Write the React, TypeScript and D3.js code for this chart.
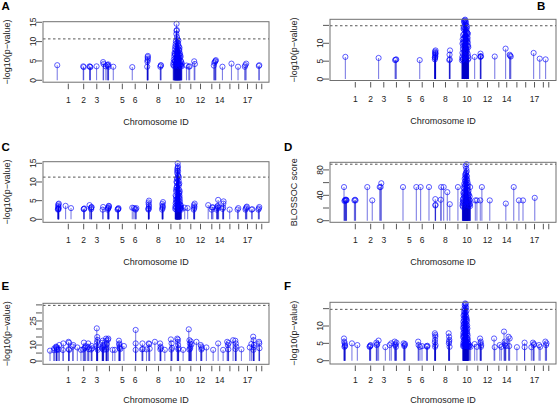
import React from 'react';
import * as d3 from 'd3';

type Locus = [number, number];

// chromosome tick positions along the genome axis (arbitrary genome units 0..1000)
const CHR_TICKS = [112, 180, 238, 294, 351, 408, 458, 511, 566, 606, 654, 697, 747, 782, 827, 866, 905, 944, 968];
const CHR_LABELS = ['1', '2', '3', '', '5', '6', '', '8', '', '10', '', '12', '', '14', '', '', '17', '', ''];

// Panel A: -log10(p) per locus [position, value]
const lociA: Locus[] = [
  [63, 3.9], [178, 3.6], [180, 3.4], [206, 3.6], [208, 3.5], [210, 3.4], [237, 3.6],
  [266, 4.7], [268, 4.2], [278, 3.6], [284, 4.0], [287, 3.8], [290, 3.5], [289, 4.1], [311, 3.5],
  [395, 3.4], [461, 3.5], [462, 4.8], [463, 5.2], [464, 5.6], [463, 6.0], [464, 6.3],
  [519, 3.5], [521, 3.8], [522, 3.9],
  [576, 4.0], [578, 4.6], [579, 5.4], [580, 3.7], [581, 6.3], [582, 7.1], [583, 5.0], [584, 8.0], [585, 8.7],
  [586, 6.6], [587, 9.4], [588, 10.1], [589, 7.6], [590, 12.0], [591, 14.6], [591, 12.8], [592, 13.0], [593, 11.2],
  [594, 9.8], [595, 10.6], [596, 8.3], [597, 9.1], [598, 7.4], [599, 10.3], [600, 6.0], [601, 8.8], [602, 5.3],
  [603, 7.9], [604, 6.7], [605, 4.5], [606, 7.0], [607, 5.8], [608, 4.1], [609, 6.2], [610, 5.0], [611, 3.8],
  [612, 4.7], [613, 3.6], [614, 4.3], [586, 3.9], [596, 4.4], [600, 3.6],
  [584, 4.9], [587, 5.7], [589, 4.3], [592, 6.1], [594, 5.2], [597, 4.8], [599, 6.9], [602, 7.7], [605, 6.4],
  [590, 8.6], [593, 7.3], [595, 6.2], [598, 9.6], [601, 5.6], [604, 8.4], [607, 3.9], [583, 6.8], [588, 4.5],
  [635, 3.8], [645, 3.5], [649, 3.6], [669, 4.9], [672, 4.2],
  [756, 3.8], [758, 4.5], [761, 4.8], [763, 5.0], [765, 5.2], [794, 3.5], [834, 4.3], [863, 3.5],
  [893, 3.5], [895, 3.9], [899, 4.3], [955, 3.7], [957, 3.9],
];

const lociB: Locus[] = [
  [68, 6.2], [215, 5.9], [288, 5.3], [291, 5.4], [293, 5.5], [397, 5.3],
  [464, 5.5], [465, 5.9], [466, 6.3], [465, 6.7], [467, 7.0], [466, 7.4], [465, 7.7], [467, 8.0], [464, 6.0], [466, 7.2],
  [528, 5.3], [530, 5.5], [529, 6.8], [531, 8.0],
  [584, 5.2], [585, 6.1], [586, 7.3], [587, 5.6], [588, 8.4], [589, 9.2], [590, 6.8], [591, 10.5], [592, 11.3],
  [593, 7.9], [594, 12.6], [595, 13.8], [596, 16.4], [597, 15.2], [598, 14.1], [599, 9.7], [600, 12.0], [601, 16.1],
  [602, 10.8], [603, 13.3], [604, 8.6], [605, 11.7], [606, 14.7], [607, 9.4], [608, 12.9], [609, 7.1], [610, 10.2],
  [611, 6.4], [612, 8.9], [613, 5.8], [588, 5.5], [590, 10.1], [592, 14.5], [594, 15.8], [596, 11.9], [598, 6.2],
  [600, 15.5], [602, 13.9], [604, 12.4], [606, 7.8], [608, 10.9], [610, 5.4], [595, 9.0], [597, 6.6], [599, 15.9],
  [601, 8.1], [603, 11.0], [605, 14.2], [607, 13.0], [609, 11.5],
  [586, 9.9], [589, 12.3], [591, 14.0], [593, 16.2], [598, 16.6], [603, 15.0], [606, 10.4], [611, 9.3], [587, 11.1], [610, 12.6],
  [640, 6.2], [665, 6.2], [667, 6.4], [668, 6.3], [666, 7.1], [729, 6.3], [777, 8.5],
  [795, 6.8], [797, 6.5], [800, 6.3], [901, 7.3], [928, 5.7], [954, 5.5],
];

const lociC: Locus[] = [
  [66, 2.6], [67, 2.8], [68, 3.0], [69, 3.3], [67, 3.6], [68, 4.0], [70, 4.2], [69, 2.7],
  [100, 3.6], [124, 3.0], [180, 2.7], [181, 2.8], [183, 2.9],
  [206, 3.8], [212, 3.0], [214, 3.2], [215, 3.3], [213, 2.7], [264, 2.6], [266, 3.3],
  [286, 2.6], [288, 2.9], [290, 3.2], [292, 3.5], [291, 3.6], [289, 3.0],
  [330, 2.6], [332, 2.8], [334, 3.0], [333, 2.7],
  [395, 3.1], [402, 3.0], [408, 2.8], [413, 3.0], [410, 2.6],
  [467, 2.6], [468, 3.0], [469, 3.5], [468, 4.0], [467, 4.5], [469, 5.0], [466, 2.8],
  [527, 2.6], [529, 3.0], [530, 3.6], [528, 4.1], [531, 4.6], [529, 3.3],
  [585, 2.8], [586, 3.5], [587, 4.3], [588, 5.2], [589, 6.0], [590, 7.4], [591, 8.5], [592, 9.8], [593, 11.0],
  [594, 12.4], [595, 13.5], [596, 15.0], [597, 14.2], [598, 12.9], [599, 11.6], [600, 10.3], [601, 9.1], [602, 8.0],
  [603, 7.0], [604, 6.3], [605, 5.5], [606, 4.8], [607, 4.0], [608, 3.4], [609, 2.9], [610, 3.7], [611, 3.1],
  [612, 2.6], [590, 2.6], [592, 3.9], [594, 5.7], [596, 7.8], [598, 6.7], [600, 5.0], [602, 4.4], [604, 3.3],
  [593, 8.9], [595, 10.7], [597, 11.9], [599, 9.4], [601, 7.1], [603, 5.9], [605, 3.0], [588, 3.2], [591, 4.6],
  [606, 2.7], [594, 13.0], [596, 13.8],
  [587, 6.4], [589, 7.9], [591, 10.1], [593, 5.0], [595, 8.1], [597, 6.0], [599, 4.2], [601, 11.2], [603, 9.6], [605, 7.5],
  [627, 3.1], [640, 3.0], [667, 2.6], [669, 3.0], [670, 3.4], [668, 3.8], [671, 4.2],
  [731, 3.8], [746, 2.6], [748, 3.2], [752, 3.2],
  [768, 2.6], [770, 3.0], [772, 3.4], [775, 5.2], [773, 3.6], [777, 3.1],
  [795, 2.8], [797, 3.2], [799, 4.8], [798, 4.2], [826, 2.6], [861, 2.6], [864, 3.0],
  [896, 2.6], [898, 2.9], [900, 3.2], [902, 3.4], [923, 2.6], [926, 2.7], [953, 2.6], [955, 2.9], [957, 3.3],
];

const lociD: Locus[] = [
  [62, 53], [64, 31], [66, 32], [68, 33], [70, 32], [72, 33], [73, 32], [108, 32], [111, 33], [113, 32],
  [165, 53], [187, 32], [220, 53], [224, 53], [227, 59], [323, 53], [382, 53], [401, 53], [438, 53],
  [466, 34], [467, 25], [466, 24], [490, 33], [492, 53], [503, 53], [519, 45], [530, 26], [566, 53],
  [586, 24], [587, 28], [588, 22], [589, 31], [590, 26], [591, 35], [592, 40], [593, 30], [594, 45], [595, 50],
  [596, 38], [597, 55], [598, 62], [599, 48], [600, 68], [601, 74], [602, 58], [603, 82], [604, 89], [605, 78],
  [606, 70], [607, 64], [608, 52], [609, 60], [610, 44], [611, 56], [612, 36], [613, 47], [614, 29], [615, 41],
  [616, 33], [617, 25], [618, 38], [619, 27], [620, 23], [588, 34], [590, 44], [592, 52], [594, 58], [596, 66],
  [598, 72], [600, 86], [602, 76], [604, 66], [606, 54], [608, 42], [610, 32], [612, 24], [595, 42], [599, 57],
  [603, 71], [607, 49], [611, 40], [601, 63], [605, 58],
  [618, 32], [620, 53], [643, 32], [650, 32], [665, 32], [672, 53], [707, 32], [778, 27], [813, 53],
  [836, 32], [854, 32], [906, 36],
];

const lociE: Locus[] = [
  [31, 6.5], [50, 7.9], [48, 6.8], [58, 9.0], [60, 8.2], [62, 7.5], [61, 6.9], [59, 8.6], [72, 10.0], [70, 7.2],
  [90, 11.0], [88, 6.9], [113, 12.0], [115, 11.4], [116, 7.0], [114, 7.4], [134, 10.0], [131, 9.0], [152, 8.5],
  [168, 7.0], [181, 11.5], [178, 7.2], [183, 8.0], [186, 8.5], [189, 9.3], [200, 11.0], [203, 7.4], [198, 8.7],
  [215, 9.4], [213, 7.2], [217, 8.0],
  [238, 20.4], [240, 15.0], [241, 13.2], [239, 11.8], [242, 7.0], [237, 9.6], [240, 8.2],
  [262, 11.4], [264, 12.7], [266, 10.0], [268, 7.0], [265, 8.6], [267, 9.3], [263, 7.8],
  [279, 14.0], [281, 12.7], [283, 10.6], [280, 7.2], [282, 8.4], [289, 14.0], [287, 13.2],
  [308, 7.0], [318, 7.0], [336, 12.7], [338, 11.0], [340, 9.0], [342, 7.5], [339, 8.0], [337, 10.2], [358, 9.4],
  [410, 19.4], [410, 11.0], [410, 7.0], [438, 7.3], [442, 7.6], [440, 11.0], [458, 7.3],
  [468, 11.0], [470, 10.6], [472, 7.7], [495, 12.0], [518, 11.0], [520, 9.0], [522, 8.0], [519, 7.3], [539, 7.0],
  [566, 13.5], [569, 11.0], [571, 8.2], [568, 7.2],
  [594, 14.0], [596, 12.0], [598, 10.0], [600, 8.0], [597, 13.4], [599, 7.2], [620, 7.0],
  [645, 19.8], [648, 13.0], [650, 11.0], [652, 9.0], [647, 7.2], [654, 12.2], [651, 7.7], [657, 10.5],
  [679, 12.0], [698, 10.0], [700, 9.0], [703, 8.0], [701, 7.2], [723, 8.5], [753, 7.0], [775, 11.0], [797, 7.0],
  [815, 12.0], [818, 10.0], [821, 11.2], [820, 7.3], [841, 13.0], [851, 12.7], [853, 11.0], [855, 9.0], [852, 7.5],
  [878, 7.3], [915, 8.5], [922, 10.6], [930, 15.2], [932, 13.0], [934, 10.0], [931, 7.0], [933, 8.6],
  [956, 12.0], [958, 8.0], [957, 11.0],
];

const lociF: Locus[] = [
  [62, 6.4], [63, 5.5], [65, 5.0], [66, 4.5], [64, 4.0], [67, 4.2], [97, 5.0], [121, 4.5],
  [175, 4.0], [178, 4.3], [180, 4.5], [177, 4.1], [205, 5.2], [207, 4.5], [209, 4.8], [215, 5.8], [245, 3.9],
  [264, 4.5], [271, 5.0], [286, 5.5], [289, 4.5], [292, 4.0], [294, 5.2], [290, 4.8],
  [326, 5.0], [329, 4.2], [332, 4.8], [330, 4.5], [390, 5.5], [392, 4.5], [407, 4.2], [398, 4.0],
  [427, 4.2], [430, 4.0], [431, 4.3], [464, 7.9], [466, 6.9], [465, 6.0], [467, 4.5], [466, 7.4], [464, 5.3], [465, 4.0],
  [525, 7.9], [527, 6.9], [528, 6.0], [526, 5.0], [529, 4.0], [527, 5.5],
  [589, 4.2], [589, 6.8], [589, 9.5], [590, 5.1], [590, 8.0], [590, 11.2], [591, 4.6], [591, 7.4], [591, 10.3],
  [591, 13.0], [592, 5.8], [592, 8.9], [592, 12.1], [593, 4.1], [593, 7.0], [593, 10.7], [593, 14.2], [594, 6.2],
  [594, 9.8], [594, 13.4], [595, 4.8], [595, 8.3], [595, 11.6], [595, 15.1], [596, 5.5], [596, 9.1], [596, 12.8],
  [596, 16.0], [597, 4.3], [597, 7.7], [597, 11.0], [597, 14.6], [598, 6.5], [598, 10.0], [598, 13.7], [598, 16.5],
  [599, 5.0], [599, 8.6], [599, 12.3], [599, 15.6], [600, 4.4], [600, 7.2], [600, 10.9], [600, 14.0], [601, 6.0],
  [601, 9.4], [601, 13.1], [601, 16.3], [602, 4.9], [602, 8.1], [602, 11.8], [602, 15.3], [603, 5.7], [603, 9.9],
  [603, 12.6], [604, 4.2], [604, 7.5], [604, 10.6], [604, 14.4], [605, 6.3], [605, 9.0], [605, 12.0], [606, 4.7],
  [606, 8.4], [606, 11.4], [607, 5.9], [607, 7.9], [607, 10.1], [608, 4.5], [608, 6.6], [608, 9.3], [609, 5.3],
  [609, 7.3], [610, 4.1], [610, 6.1], [611, 5.0], [612, 4.3], [613, 4.8], [615, 4.0], [617, 4.4],
  [622, 4.0], [640, 4.8], [650, 4.0], [664, 6.4], [667, 5.5], [669, 4.5], [666, 5.0], [668, 4.0],
  [726, 6.4], [729, 3.9], [751, 4.5], [758, 4.0], [770, 8.4], [773, 5.5], [776, 5.0], [778, 4.2], [774, 4.5],
  [790, 6.9], [795, 6.4], [793, 4.2], [827, 3.9], [861, 5.2], [861, 3.9], [891, 3.9],
  [898, 5.2], [901, 4.5], [903, 4.8], [925, 4.5], [930, 4.0], [953, 5.5], [956, 4.5], [958, 5.0],
];

const Y_TITLE_P = '\u2212log10(p\u2212value)';
const Y_TITLE_D = 'BLOSSOC score';
const X_TITLE = 'Chromosome ID';

interface PanelSpec {
  letter: string;
  lx: number; ly: number;
  left: number; right: number; top: number; bottom: number;
  yDomain: [number, number];
  yTicks: number[];
  yLabeled: number[];
  threshold: number;
  yTitle: string;
  data: Locus[];
  tickLabelDy: number;
  titleDy: number;
}

const PANELS: PanelSpec[] = [
  { letter: 'A', lx: 1.5, ly: 9.5, left: 43, right: 269, top: 21.7, bottom: 82.2, yDomain: [-0.5, 15.15], yTicks: [0, 5, 10, 15], yLabeled: [0, 5, 10, 15], threshold: 10.7, yTitle: Y_TITLE_P, data: lociA, tickLabelDy: 21, titleDy: 43 },
  { letter: 'B', lx: 537, ly: 9.5, left: 330, right: 556, top: 19.3, bottom: 80.5, yDomain: [-0.4, 16.7], yTicks: [0, 5, 10, 15], yLabeled: [0, 5, 10], threshold: 14.9, yTitle: Y_TITLE_P, data: lociB, tickLabelDy: 21, titleDy: 43 },
  { letter: 'C', lx: 1.5, ly: 151, left: 43, right: 269, top: 161.7, bottom: 222.3, yDomain: [-0.8, 15.43], yTicks: [0, 5, 10, 15], yLabeled: [0, 5, 10, 15], threshold: 11.3, yTitle: Y_TITLE_P, data: lociC, tickLabelDy: 21, titleDy: 43 },
  { letter: 'D', lx: 284, ly: 151, left: 330, right: 556, top: 162.3, bottom: 222.3, yDomain: [-2.5, 92], yTicks: [0, 20, 40, 60, 80], yLabeled: [0, 40, 80], threshold: 89, yTitle: Y_TITLE_D, data: lociD, tickLabelDy: 21, titleDy: 43 },
  { letter: 'E', lx: 1.5, ly: 289.5, left: 43, right: 269, top: 303.3, bottom: 364.3, yDomain: [-2, 36], yTicks: [0, 5, 10, 15, 20, 25, 30, 35], yLabeled: [0, 10, 25], threshold: 34.7, yTitle: Y_TITLE_P, data: lociE, tickLabelDy: 19, titleDy: 38.5 },
  { letter: 'F', lx: 284, ly: 289.5, left: 330, right: 556, top: 302.3, bottom: 364, yDomain: [-0.95, 16.83], yTicks: [0, 5, 10, 15], yLabeled: [0, 5, 10], threshold: 14.8, yTitle: Y_TITLE_P, data: lociF, tickLabelDy: 19, titleDy: 38.5 },
];

const FONT = '"Liberation Sans", Arial, Helvetica, sans-serif';

function Panel({ p }: { p: PanelSpec }) {
  const x = d3.scaleLinear().domain([0, 1000]).range([p.left, p.right]);
  const y = d3.scaleLinear().domain(p.yDomain).range([p.bottom, p.top]);
  const midY = (p.top + p.bottom) / 2;
  const midX = (p.left + p.right) / 2;
  return (
    <g>
      <text x={p.lx} y={p.ly} fontFamily={FONT} fontWeight="bold" fontSize={11.5}>{p.letter}</text>
      <g>
        {p.data.map(([pos, v], i) => (
          <line key={'l' + i} x1={x(pos)} x2={x(pos)} y1={y(0)} y2={y(v)} stroke="#0000cc" strokeOpacity={0.5} strokeWidth={1.1} />
        ))}
        {p.data.map(([pos, v], i) => (
          <circle key={'c' + i} cx={x(pos)} cy={y(v)} r={2.6} fill="none" stroke="#0000ff" strokeOpacity={0.7} strokeWidth={0.9} />
        ))}
      </g>
      <line x1={p.left} x2={p.right} y1={y(p.threshold)} y2={y(p.threshold)} stroke="#444" strokeWidth={0.9} strokeDasharray="2.5,2.5" />
      <rect x={p.left} y={p.top} width={p.right - p.left} height={p.bottom - p.top} fill="none" stroke="#707070" strokeWidth={1} />
      {p.yTicks.map((t) => (
        <line key={'yt' + t} x1={p.left - 7} x2={p.left - 1} y1={y(t)} y2={y(t)} stroke="#444" strokeWidth={0.9} />
      ))}
      {p.yLabeled.map((t) => (
        <text key={'yl' + t} transform={`translate(${p.left - 7.5},${y(t)}) rotate(-90)`} textAnchor="middle" fontFamily={FONT} fontSize={8.5} fill="#222">{t}</text>
      ))}
      <text transform={`translate(${p.left - 33.5},${midY}) rotate(-90)`} textAnchor="middle" fontFamily={FONT} fontSize={9} fill="#222">{p.yTitle}</text>
      {CHR_TICKS.map((t, i) => (
        <line key={'xt' + i} x1={x(t)} x2={x(t)} y1={p.bottom + 1.5} y2={p.bottom + 7} stroke="#444" strokeWidth={0.9} />
      ))}
      {CHR_TICKS.map((t, i) => CHR_LABELS[i] ? (
        <text key={'xl' + i} x={x(t)} y={p.bottom + p.tickLabelDy} textAnchor="middle" fontFamily={FONT} fontSize={8.5} fill="#222">{CHR_LABELS[i]}</text>
      ) : null)}
      <text x={midX} y={p.bottom + p.titleDy} textAnchor="middle" fontFamily={FONT} fontSize={9} fill="#222">{X_TITLE}</text>
    </g>
  );
}

export default function App() {
  return (
    <svg width={558} height={407} style={{ position: 'absolute', left: 0, top: 0, background: '#fff' }}>
      <rect width={558} height={407} fill="#fff" />
      {PANELS.map((p) => <Panel key={p.letter} p={p} />)}
    </svg>
  );
}
